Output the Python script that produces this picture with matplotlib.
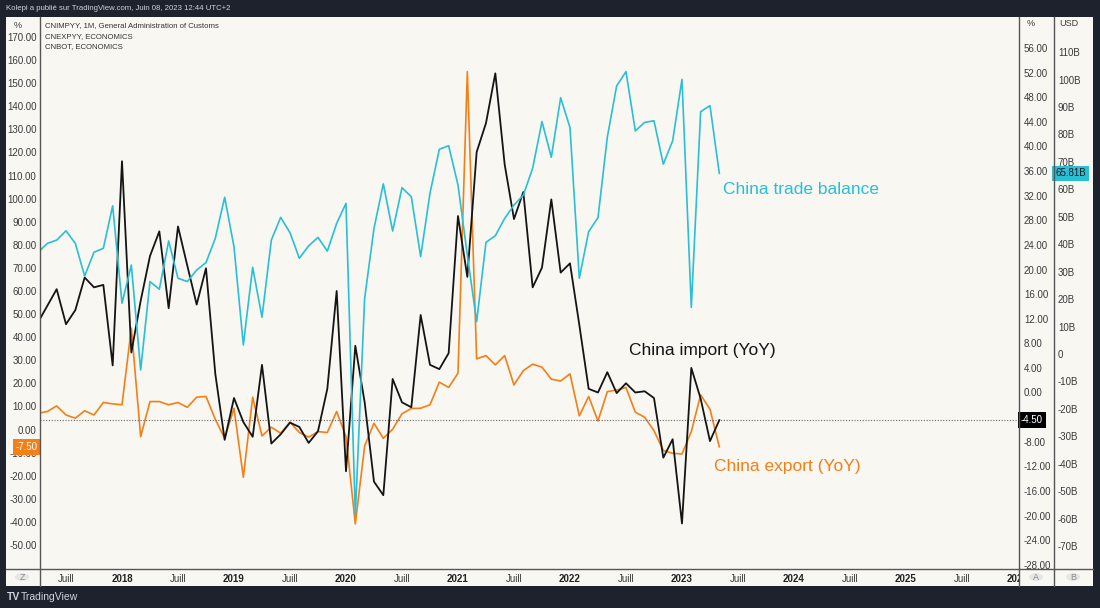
# China trade: import / export YoY and trade balance (TradingView style)

import numpy as np
import matplotlib
matplotlib.use("Agg")
import matplotlib.pyplot as plt
from matplotlib.lines import Line2D
from matplotlib.patches import Rectangle, Circle
from matplotlib.ticker import FixedLocator, FuncFormatter

# months counted from 2018-01 (0 = Jan 2018), first point Apr 2017
months = np.arange(-9, 65)

trade_balance = [37.0, 40.3, 41.5, 44.9, 40.3, 28.4, 37.1, 38.5, 54.0,
                 18.5, 32.4, -5.8, 26.4, 23.6, 41.2, 27.6, 26.4, 30.6, 33.3, 42.2, 57.1,
                 39.1, 3.3, 31.6, 13.4, 41.5, 49.8, 44.2, 34.9, 39.4, 42.5, 37.5, 47.6,
                 54.9, -58.7, 20.3, 45.8, 62.0, 44.8, 60.6, 57.3, 35.5, 58.6, 74.6, 75.9,
                 61.6, 36.1, 11.8, 40.7, 43.1, 49.4, 54.3, 57.9, 67.7, 84.7, 71.7, 93.4,
                 82.5, 27.6, 44.6, 49.7, 79.0, 97.7, 102.9, 81.3, 84.4, 85.0, 69.2, 77.7,
                 100.1, 17.0, 88.3, 90.5, 65.81]

imports_yoy = [11.4, 14.1, 16.8, 11.1, 13.4, 18.7, 17.1, 17.5, 4.4,
               37.6, 6.5, 14.9, 22.2, 26.2, 13.7, 27.0, 20.6, 14.3, 20.2, 3.0, -7.7,
               -0.9, -4.8, -7.2, 4.5, -8.3, -6.8, -4.9, -5.6, -8.2, -6.3, 0.6, 16.5,
               -12.8, 7.6, -1.6, -14.5, -16.7, 2.2, -1.6, -2.4, 12.6, 4.5, 3.8, 6.4,
               28.7, 18.8, 39.1, 43.8, 51.9, 37.1, 28.2, 32.6, 17.1, 20.3, 31.4, 19.5,
               21.0, 11.0, 0.6, 0.0, 3.3, -0.1, 1.5, 0.0, 0.2, -0.9, -10.6, -7.6,
               -21.3, 4.0, -1.0, -7.9, -4.5]

exports_yoy = [7.0, 7.8, 10.2, 6.3, 4.9, 8.1, 6.3, 11.7, 11.1,
               10.7, 43.9, -3.1, 12.1, 12.1, 10.7, 11.7, 9.6, 14.0, 14.3, 4.4, -3.8,
               9.2, -20.7, 14.0, -2.8, 1.0, -1.6, 3.2, -1.3, -3.3, -0.9, -1.3, 7.8,
               -3.1, -40.9, -7.1, 2.7, -3.8, 0.1, 6.8, 9.1, 9.2, 10.7, 20.5, 18.2,
               24.4, 155.0, 30.6, 32.0, 28.0, 32.0, 19.3, 25.5, 28.3, 27.0, 21.8, 21.0,
               24.1, 5.9, 14.3, 3.7, 16.4, 17.1, 18.2, 7.5, 5.3, -0.5, -9.1, -10.3,
               -10.6, -0.9, 15.0, 8.8, -7.5]

left_ticks = list(range(-50, 171, 10))
# the -4.00 label sits under the last-value box, so it is left out
a_ticks = [t for t in range(-28, 57, 4) if t != -4]
b_ticks = list(range(-70, 111, 10))
year_ticks = [0, 12, 24, 36, 48, 60, 72, 84, 96]
year_labels = ["2018", "2019", "2020", "2021", "2022", "2023", "2024", "2025", "2026"]
half_ticks = [-6, 6, 18, 30, 42, 54, 66, 78, 90]

W, H = 1100, 608
DARK = "#1e222d"
PANEL = "#f8f7f2"
CYAN = "#29bfd6"
ORANGE = "#f57f17"
BLACK = "#141414"
TXT = "#3a3a3a"
NARROW = ["Liberation Sans Narrow", "Liberation Sans", "DejaVu Sans"]
plt.rcParams["font.family"] = NARROW


def fx(x):
    return x / W


def fy(y):
    return 1 - y / H


fig = plt.figure(figsize=(W / 100, H / 100), dpi=100, facecolor=DARK)

# light panel
fig.add_artist(Rectangle((fx(6), fy(586)), fx(1093) - fx(6), fy(17) - fy(586),
                         transform=fig.transFigure, facecolor=PANEL, edgecolor="none", zorder=-10))

ax = fig.add_axes([fx(40), fy(568), fx(1019) - fx(40), fy(17) - fy(568)])
ax.set_facecolor("none")
axa = ax.twinx()
axb = ax.twinx()

ax.set_xlim((40 - 122) / 9.333, (1019 - 122) / 9.333)
ax.set_ylim((429.5 - 568) / 2.309, (429.5 - 17) / 2.309)
axa.set_ylim((392.5 - 568) / 6.15, (392.5 - 17) / 6.15)
axb.set_ylim((354 - 568) / 2.744, (354 - 17) / 2.744)

axb.plot(months, trade_balance, color=CYAN, lw=1.2, zorder=2)
ax.plot(months, exports_yoy, color=ORANGE, lw=1.2, zorder=2)
axa.plot(months, imports_yoy, color=BLACK, lw=1.3, zorder=3)
axa.axhline(imports_yoy[-1], color="#666666", lw=0.8, ls=(0, (1, 1.5)), zorder=1)

for a in (ax, axa, axb):
    for s in a.spines.values():
        s.set_visible(False)

ax.yaxis.set_major_locator(FixedLocator(left_ticks))
ax.yaxis.set_major_formatter(FuncFormatter(lambda v, p: f"{v:.2f}".replace("\u2212", "-")))
ax.tick_params(axis="y", length=0, pad=2.5, labelsize=7, labelcolor=TXT)

axa.yaxis.set_major_locator(FixedLocator(a_ticks))
axa.yaxis.set_major_formatter(FuncFormatter(lambda v, p: f"{v:.2f}"))
axa.tick_params(axis="y", length=0, pad=3.5, labelsize=7, labelcolor=TXT)

axb.yaxis.set_major_locator(FixedLocator(b_ticks))
axb.yaxis.set_major_formatter(FuncFormatter(lambda v, p: "0" if v == 0 else f"{int(v)}B"))
axb.tick_params(axis="y", length=0, pad=28, labelsize=7, labelcolor=TXT)

ax.set_xticks(year_ticks + half_ticks)
ax.set_xticklabels(year_labels + ["Juill"] * len(half_ticks))
ax.tick_params(axis="x", length=0, pad=4, labelsize=7, labelcolor=TXT)
for lab in ax.get_xticklabels()[:len(year_ticks)]:
    lab.set_fontweight("bold")
    lab.set_color("#222222")

# separators
for x in (40, 1019.5, 1053.5):
    fig.add_artist(Line2D([fx(x), fx(x)], [fy(17), fy(586)], transform=fig.transFigure,
                          color="#555555", lw=1.0, zorder=6))
fig.add_artist(Line2D([fx(6), fx(1093)], [fy(568.5), fy(568.5)], transform=fig.transFigure,
                      color="#555555", lw=1.0, zorder=6))
# hide the clipped part of the last year label
fig.add_artist(Rectangle((fx(1020), fy(585.5)), fx(1093) - fx(1020), fy(569) - fy(585.5),
                         transform=fig.transFigure, facecolor=PANEL, edgecolor="none", zorder=5))

# scale buttons
for cx, t in ((22, "Z"), (1036, "A"), (1073, "B")):
    fig.add_artist(Circle((fx(cx), fy(577)), 7 / W, transform=fig.transFigure,
                          facecolor="#e6e6e6", edgecolor="none", zorder=7))
    fig.text(fx(cx), fy(577), t, ha="center", va="center", fontsize=6.5, color="#8a8a8a", zorder=8)

# axis units
fig.text(fx(14), fy(25), "%", fontsize=6.5, color=TXT, va="center")
fig.text(fx(1027), fy(24), "%", fontsize=6.5, color=TXT, va="center")
fig.text(fx(1059), fy(24), "USD", fontsize=6.5, color=TXT, va="center")

# series names
for i, s in enumerate(["CNIMPYY, 1M, General Administration of Customs",
                       "CNEXPYY, ECONOMICS", "CNBOT, ECONOMICS"]):
    fig.text(fx(45), fy(26 + 10.3 * i), s, fontsize=5.6, color="#333333", va="center")

# last value labels
ax.text(-0.002, exports_yoy[-1], "-7.50", transform=ax.get_yaxis_transform(), ha="right", va="center",
        fontsize=7, color="white", zorder=10, clip_on=False,
        bbox=dict(boxstyle="square,pad=0.3", fc=ORANGE, ec="none"))
axa.text(1.002, imports_yoy[-1], "-4.50", transform=axa.get_yaxis_transform(), ha="left", va="center",
         fontsize=7, color="white", zorder=10, clip_on=False,
         bbox=dict(boxstyle="square,pad=0.3", fc="#000000", ec="none"))
axb.text(1.037, trade_balance[-1], "65.81B", transform=axb.get_yaxis_transform(), ha="left", va="center",
         fontsize=7, color="#1a1a1a", zorder=10, clip_on=False,
         bbox=dict(boxstyle="square,pad=0.3", fc=CYAN, ec="none"))

# annotations
ann = ["Liberation Sans", "DejaVu Sans"]
fig.text(fx(723), fy(189), "China trade balance", fontsize=12.5, color=CYAN, va="center", family=ann)
fig.text(fx(629), fy(350), "China import (YoY)", fontsize=12.5, color=BLACK, va="center", family=ann)
fig.text(fx(714), fy(467), "China export (YoY)", fontsize=12.5, color=ORANGE, va="center", family=ann)

# header and footer
fig.text(fx(6), fy(8), "Kolepi a publié sur TradingView.com, Juin 08, 2023 12:44 UTC+2",
         fontsize=5.6, color="#d1d4dc", va="center")
fig.text(fx(7), fy(597), "TV", fontsize=7.5, fontweight="bold", color="#d1d4dc", va="center")
fig.text(fx(21), fy(597), "TradingView", fontsize=7.5, color="#d1d4dc", va="center")

fig.savefig("out.png", dpi=100, facecolor=DARK)
